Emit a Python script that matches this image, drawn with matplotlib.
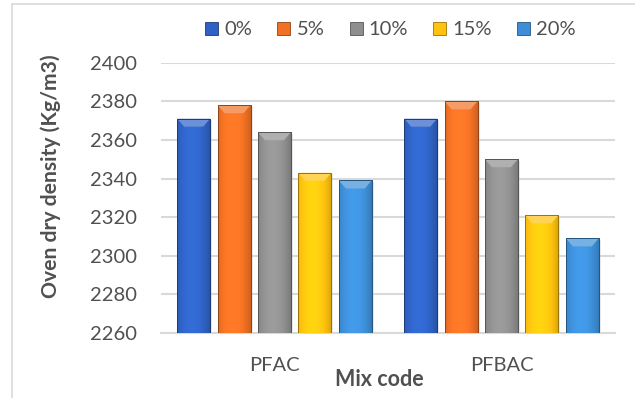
import numpy as np
import matplotlib
matplotlib.use("Agg")
import matplotlib.pyplot as plt
from matplotlib.colors import to_rgb
from matplotlib.patches import Polygon, Rectangle
from matplotlib.lines import Line2D

plt.rcParams['font.family'] = ['Lato', 'DejaVu Sans']

mixes = ["PFAC", "PFBAC"]
series = ["0%", "5%", "10%", "15%", "20%"]
density = {
    "0%":  [2371, 2371],
    "5%":  [2378, 2380],
    "10%": [2364, 2350],
    "15%": [2343, 2321],
    "20%": [2339, 2309],
}
colors = ["#2F62C4", "#F07024", "#8E8E8E", "#FFC20E", "#3D8ED6"]
yticks = [2260, 2280, 2300, 2320, 2340, 2360, 2380, 2400]

text_gray = "#505050"
grid_gray = "#D9D9D9"
fs = 14.5

fig = plt.figure(figsize=(6.35, 3.98), dpi=100)
ax = fig.add_axes([0.2535, 0.1633, 0.715, 0.6792])

ymin, ymax = 2260, 2400
ax.set_ylim(ymin, ymax)
ax.set_xlim(-0.5, len(mixes) - 0.5)

step = 0.178
width = 0.145
x = np.arange(len(mixes))


def shade(c, f):
    c = np.array(to_rgb(c))
    if f >= 0:
        return tuple(c + (1 - c) * f)
    return tuple(c * (1 + f))


# pixel-to-data helpers for the bevel
px_y = (ymax - ymin) / (ax.get_position().height * fig.get_figheight() * fig.dpi)
px_x = (len(mixes)) / (ax.get_position().width * fig.get_figwidth() * fig.dpi)

for i, (s, c) in enumerate(zip(series, colors)):
    xs = x + (i - 2) * step
    vals = np.array(density[s])
    bars = ax.bar(xs, vals - ymin, width, bottom=ymin, color=c, zorder=3,
                  edgecolor=shade(c, -0.35), linewidth=0.6)
    for b in bars:
        x0, w = b.get_x(), b.get_width()
        y0, h = b.get_y(), b.get_height()
        # soft shadow to the lower right
        ax.add_patch(Rectangle((x0 + 2 * px_x, y0 - 1.5 * px_y), w, h,
                               facecolor="#BFBFBF", alpha=0.35, lw=0, zorder=2))
        # horizontal shading: darker at the edges
        t = np.linspace(0, 1, 64)
        prof = 1 - 2.2 * (t - 0.45) ** 2
        base = np.array(to_rgb(c))
        img = np.clip(base[None, :] * (0.74 + 0.36 * prof[:, None]), 0, 1)
        img = np.tile(img[None, :, :], (2, 1, 1))
        im = ax.imshow(img, extent=(x0, x0 + w, y0, y0 + h), aspect="auto",
                       zorder=3.5, interpolation="bilinear")
        im.set_clip_path(b)
        # bevel on the top edge
        bh = 8 * px_y
        bw = 7 * px_x
        top = y0 + h
        ax.add_patch(Polygon([(x0, top), (x0 + w, top), (x0 + w - bw, top - bh),
                              (x0 + bw, top - bh)], closed=True,
                             facecolor=shade(c, 0.3), lw=0, zorder=4))
        ax.add_patch(Rectangle((x0, y0), w, h, fill=False,
                               edgecolor=shade(c, -0.4), lw=0.7, zorder=4.2))

ax.set_yticks(yticks)
ax.yaxis.grid(True, color=grid_gray, linewidth=1.5, zorder=0)
ax.set_axisbelow(True)
for side in ["left", "right", "top"]:
    ax.spines[side].set_visible(False)
ax.spines["bottom"].set_color(grid_gray)
ax.spines["bottom"].set_linewidth(1.5)
ax.tick_params(axis="both", length=0, colors=text_gray, labelsize=fs)
ax.tick_params(axis="y", pad=17)
ax.tick_params(axis="x", pad=17)
ax.set_xticks(x)
ax.set_xticklabels(mixes)

fig.text(0.08, 0.558, "Oven dry density (Kg/m3)", rotation=90, ha="center",
         va="center", fontsize=15.2, fontweight="bold", color=text_gray)
fig.text(0.598, 0.047, "Mix code", ha="center", va="center",
         fontsize=15.5, fontweight="bold", color=text_gray)

handles = [Rectangle((0, 0), 1, 1, facecolor=c, edgecolor=shade(c, -0.4), lw=0.6)
           for c in colors]
leg = fig.legend(handles, series, ncol=5, loc="center", bbox_to_anchor=(0.615, 0.925),
                 frameon=False, fontsize=fs, handlelength=0.65, handleheight=0.65,
                 handletextpad=0.3, columnspacing=1.25)
for t in leg.get_texts():
    t.set_color(text_gray)

# chart frame
fig.add_artist(Line2D([12 / 635, 12 / 635], [0, 1 - 4 / 398], color="#D9D9D9", lw=1.2,
                      transform=fig.transFigure))
fig.add_artist(Line2D([12 / 635, 1], [1 - 4 / 398, 1 - 4 / 398], color="#D9D9D9", lw=1.2,
                      transform=fig.transFigure))

fig.savefig("out.png", dpi=100)
